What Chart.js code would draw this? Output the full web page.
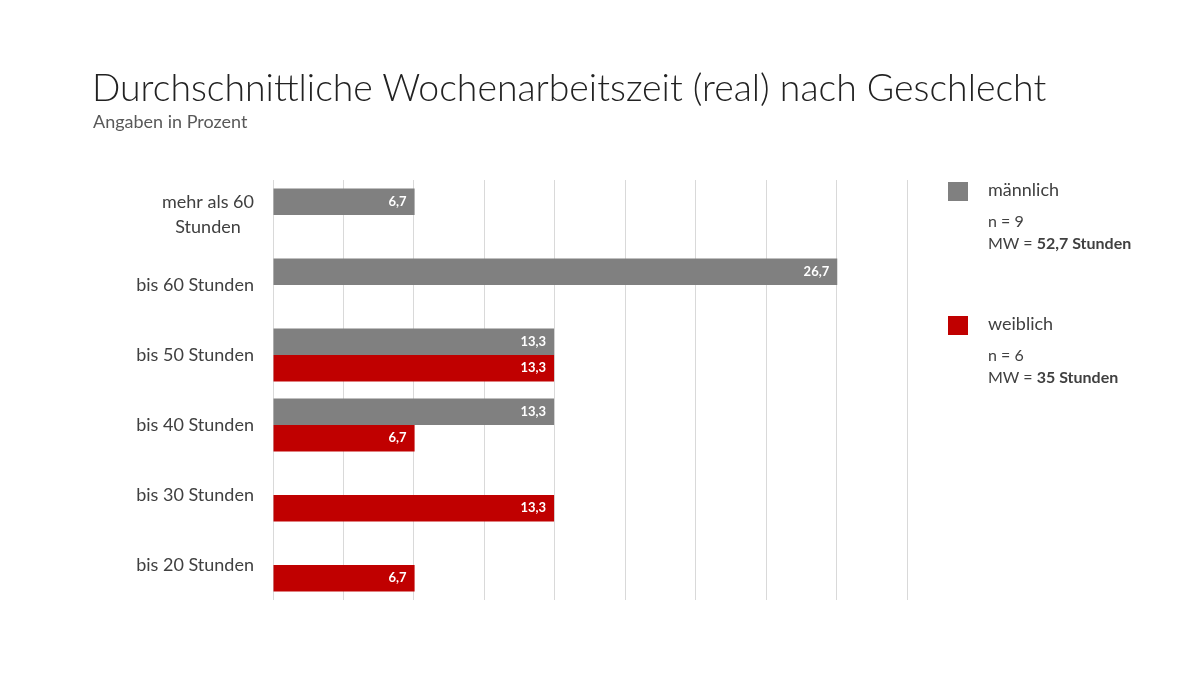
<!DOCTYPE html>
<html>
<head>
<meta charset="utf-8">
<script src="https://cdn.jsdelivr.net/npm/chart.js@4"></script>
<style>
  body { margin: 0; background: #fff; font-family: Lato, "Open Sans", sans-serif; }
  #wrap { position: relative; width: 1200px; height: 675px; overflow: hidden; }
  #chart { position: absolute; left: 0; top: 0; }
  h1 { position: absolute; left: 92px; top: 64px; margin: 0; font-weight: 300; font-size: 37.4px; color: #222; white-space: nowrap; }
  .sub { position: absolute; left: 93px; top: 110px; font-size: 18px; color: #595959; }
  .leg { position: absolute; left: 948px; color: #404040; font-size: 16px; line-height: 22px; }
  .leg .sw { position: absolute; left: 0; top: 0; width: 20px; height: 19px; }
  .leg .name { position: absolute; left: 40px; top: -4px; font-size: 18px; white-space: nowrap; }
  .leg .info { position: absolute; left: 40px; top: 28px; white-space: nowrap; }
</style>
</head>
<body>
<div id="wrap">
  <canvas id="chart" width="1200" height="675"></canvas>
  <h1>Durchschnittliche Wochenarbeitszeit (real) nach Geschlecht</h1>
  <div class="sub">Angaben in Prozent</div>
  <div class="leg" style="top:182px">
    <div class="sw" style="background:#808080"></div>
    <div class="name">männlich</div>
    <div class="info">n = 9<br>MW = <b>52,7 Stunden</b></div>
  </div>
  <div class="leg" style="top:316px">
    <div class="sw" style="background:#c00000"></div>
    <div class="name">weiblich</div>
    <div class="info">n = 6<br>MW = <b>35 Stunden</b></div>
  </div>
</div>
<script>
const categories = [
  ["mehr als 60", "Stunden"],
  "bis 60 Stunden",
  "bis 50 Stunden",
  "bis 40 Stunden",
  "bis 30 Stunden",
  "bis 20 Stunden"
];
const maleValues = [6.7, 26.7, 13.3, 13.3, null, null];
const femaleValues = [null, null, 13.3, 6.7, 13.3, 6.7];

const FONT = "Lato, 'Open Sans', sans-serif";

// white value labels at the end of each bar
const barLabels = {
  id: "barLabels",
  afterDatasetsDraw(chart) {
    const ctx = chart.ctx;
    ctx.save();
    ctx.font = "bold 13px " + FONT;
    ctx.fillStyle = "#ffffff";
    ctx.textAlign = "right";
    ctx.textBaseline = "middle";
    chart.data.datasets.forEach((ds, i) => {
      chart.getDatasetMeta(i).data.forEach((bar, j) => {
        const v = ds.data[j];
        if (v == null) return;
        ctx.fillText(v.toFixed(1).replace(".", ","), bar.x - 8, bar.y);
      });
    });
    ctx.restore();
  }
};

// category labels: block right-aligned at the axis, lines centred within the block
const catLabels = {
  id: "catLabels",
  afterDraw(chart) {
    const ctx = chart.ctx;
    const y = chart.scales.y;
    const right = y.right - 19;
    const lh = 25;
    ctx.save();
    ctx.font = "18px " + FONT;
    ctx.fillStyle = "#404040";
    ctx.textAlign = "center";
    ctx.textBaseline = "middle";
    chart.data.labels.forEach((lab, i) => {
      const lines = Array.isArray(lab) ? lab : [lab];
      const w = Math.max(...lines.map(l => ctx.measureText(l).width));
      const cx = right - w / 2;
      const cy = y.getPixelForTick(i);
      lines.forEach((l, k) => {
        ctx.fillText(l, cx, cy + (k - (lines.length - 1) / 2) * lh);
      });
    });
    ctx.restore();
  }
};

new Chart(document.getElementById("chart").getContext("2d"), {
  type: "bar",
  data: {
    labels: categories,
    datasets: [
      { label: "männlich", data: maleValues, backgroundColor: "#808080" },
      { label: "weiblich", data: femaleValues, backgroundColor: "#c00000" }
    ]
  },
  options: {
    indexAxis: "y",
    responsive: false,
    animation: false,
    layout: { padding: { top: 180, bottom: 75, right: 293, left: 0 } },
    datasets: { bar: { categoryPercentage: 0.76, barPercentage: 1.0 } },
    plugins: { legend: { display: false }, tooltip: { enabled: false } },
    scales: {
      x: {
        min: 0,
        max: 30,
        ticks: { display: false, stepSize: 10 / 3 },
        grid: { color: "#d9d9d9", drawTicks: false },
        border: { display: false }
      },
      y: {
        afterFit(scale) { scale.width = 273; },
        ticks: { display: false },
        grid: { display: false, drawTicks: false },
        border: { display: false }
      }
    }
  },
  plugins: [barLabels, catLabels]
});
</script>
</body>
</html>
